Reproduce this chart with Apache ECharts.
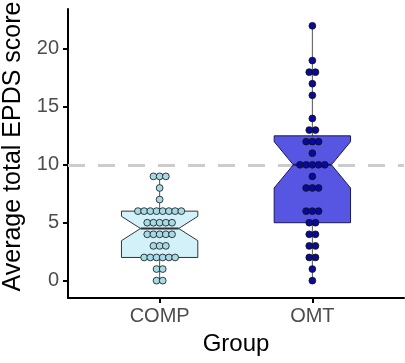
<!DOCTYPE html>
<html>
<head>
<meta charset="utf-8">
<script src="https://cdn.jsdelivr.net/npm/echarts@6/dist/echarts.min.js"></script>
<style>
  html, body { margin: 0; padding: 0; background: #fff; }
  #chart { width: 405px; height: 363px; }
</style>
</head>
<body>
<div id="chart"></div>
<script>
  // data
  const groups = ['COMP', 'OMT'];
  const compScores = [0,0,1,1,2,2,2,2,2,2,3,3,3,4,4,4,4,4,5,5,5,5,5,6,6,6,6,6,6,6,6,7,8,9,9,9];
  const omtScores = [0,1,2,2,3,3,4,4,5,5,6,6,6,8,8,8,9,10,10,10,10,10,11,12,12,12,13,13,14,16,17,18,18,19,22];
  // [min, q1, median, q3, max, notchLow, notchHigh]
  const compBox = [0, 2, 4.5, 6, 9, 3.45, 5.55];
  const omtBox = [0, 5, 10, 12.5, 22, 8, 12];
  const yTicks = [0, 5, 10, 15, 20];
  const cutoff = 10;

  const boxFill = ['#d3f1f9', '#5656e2'];
  const boxEdge = ['#333333', '#1a1a5a'];
  const dotFill = ['#a6dae6', '#0a0a9a'];
  const boxWidth = 0.5;
  const dotStep = 6.2;   // px between stacked dots
  const font = 'Liberation Sans, Arial, sans-serif';

  const boxData = [compBox, omtBox].map((b, i) => [i + 1].concat(b));

  // centre-stacked dots, one row per score
  const dotData = [];
  [compScores, omtScores].forEach((scores, g) => {
    const counts = {};
    scores.forEach(s => { counts[s] = (counts[s] || 0) + 1; });
    Object.keys(counts).forEach(k => {
      for (let i = 0; i < counts[k]; i++) {
        dotData.push([g + 1, Number(k), i, counts[k]]);
      }
    });
  });

  const chart = echarts.init(document.getElementById('chart'));

  function renderBox(params, api) {
    const x = api.value(0);
    const mn = api.value(1), q1 = api.value(2), md = api.value(3), q3 = api.value(4),
          mx = api.value(5), nlo = api.value(6), nhi = api.value(7);
    const g = params.dataIndex;
    const hw = boxWidth / 2;
    const p = (dx, v) => api.coord([x + dx, v]);
    const poly = [
      p(-hw, q3), p(hw, q3), p(hw, nhi), p(hw / 2, md), p(hw, nlo),
      p(hw, q1), p(-hw, q1), p(-hw, nlo), p(-hw / 2, md), p(-hw, nhi)
    ];
    const a = p(0, q3), b = p(0, mx), c = p(0, q1), d = p(0, mn);
    const m1 = p(-hw / 2, md), m2 = p(hw / 2, md);
    const line = { stroke: '#555', lineWidth: 1 };
    return {
      type: 'group',
      children: [
        { type: 'line', shape: { x1: a[0], y1: a[1], x2: b[0], y2: b[1] }, style: line },
        { type: 'line', shape: { x1: c[0], y1: c[1], x2: d[0], y2: d[1] }, style: line },
        { type: 'polygon', shape: { points: poly }, style: { fill: boxFill[g], stroke: boxEdge[g], lineWidth: 1 } },
        { type: 'line', shape: { x1: m1[0], y1: m1[1], x2: m2[0], y2: m2[1] }, style: { stroke: boxEdge[g], lineWidth: 2 } }
      ]
    };
  }

  function renderDot(params, api) {
    const g = api.value(0);
    const c = api.coord([g, api.value(1)]);
    const i = api.value(2), n = api.value(3);
    return {
      type: 'circle',
      shape: { cx: c[0] + (i - (n - 1) / 2) * dotStep, cy: c[1], r: 3.4 },
      style: { fill: dotFill[g - 1], stroke: '#111', lineWidth: 0.8 }
    };
  }

  const option = {
    animation: false,
    grid: { left: 68, right: 1, top: 9, bottom: 65, outerBoundsMode: 'none' },
    xAxis: {
      type: 'value',
      min: 0.4,
      max: 2.6,
      name: 'Group',
      nameLocation: 'middle',
      nameGap: 34,
      nameTextStyle: { color: '#000', fontSize: 24, fontFamily: font },
      axisLine: { show: true, onZero: false, lineStyle: { color: '#000', width: 2 } },
      axisTick: { show: true, customValues: [1, 2], length: 5, lineStyle: { color: '#000', width: 2 } },
      axisLabel: {
        customValues: [1, 2],
        formatter: v => groups[v - 1],
        color: '#4d4d4d', fontSize: 20, fontFamily: font, margin: 8
      },
      splitLine: { show: false }
    },
    yAxis: {
      type: 'value',
      min: -1.5,
      max: 23.45,
      name: 'Average total EPDS score',
      nameLocation: 'middle',
      nameGap: 41,
      nameTextStyle: { color: '#000', fontSize: 25, fontFamily: font, padding: [0, 0, 0, 14] },
      axisLine: { show: true, onZero: false, lineStyle: { color: '#000', width: 2 } },
      axisTick: { show: true, customValues: yTicks, length: 5, lineStyle: { color: '#000', width: 2 } },
      axisLabel: { customValues: yTicks, color: '#4d4d4d', fontSize: 20, fontFamily: font, margin: 9 },
      splitLine: { show: false }
    },
    series: [
      {
        type: 'line',
        data: [],
        z: 1,
        markLine: {
          silent: true,
          symbol: 'none',
          z: 1,
          label: { show: false },
          lineStyle: { color: '#cccccc', width: 3, type: [17, 13] },
          data: [{ yAxis: cutoff }]
        }
      },
      {
        type: 'custom',
        renderItem: renderBox,
        data: boxData,
        z: 8
      },
      {
        type: 'custom',
        renderItem: renderDot,
        data: dotData,
        z: 9
      }
    ]
  };

  chart.setOption(option);
</script>
</body>
</html>
